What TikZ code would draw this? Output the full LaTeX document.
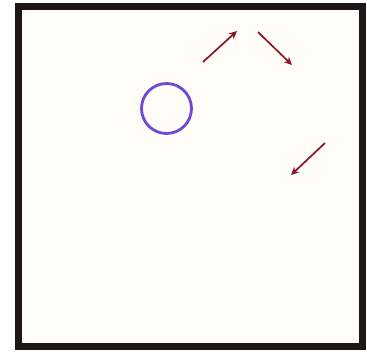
\documentclass[tikz,border=0pt]{standalone}
\usepackage{tikz}
\usetikzlibrary{arrows.meta}
\usepackage{xcolor}
\definecolor{framebrown}{HTML}{1E1713}
\definecolor{paper}{HTML}{FFFDF7}
\definecolor{ringviolet}{HTML}{7048D8}
\definecolor{vecred}{HTML}{8A1526}

\begin{document}
\begin{tikzpicture}[x=1pt,y=-1pt,>={Stealth[length=8pt,width=7.5pt]},vec/.style={->,draw=vecred,fill=vecred,line width=1.7pt}]
\useasboundingbox (0,0) rectangle (367,354);
\draw[framebrown,line width=7pt,fill=paper] (18,6.5) rectangle (362,346.5);
\node[circle,draw=ringviolet,line width=2.8pt,minimum size=50pt,inner sep=0pt] (ring) at (166.5,108.5) {};
\coordinate (a1) at (203,62);  \coordinate (b1) at (237,31);
\coordinate (a2) at (258,32);  \coordinate (b2) at (292,65);
\coordinate (a3) at (325,143); \coordinate (b3) at (291,175);
\draw[vec] (a1) -- (b1);
\draw[vec] (a2) -- (b2);
\draw[vec] (a3) -- (b3);
\end{tikzpicture}
\end{document}
